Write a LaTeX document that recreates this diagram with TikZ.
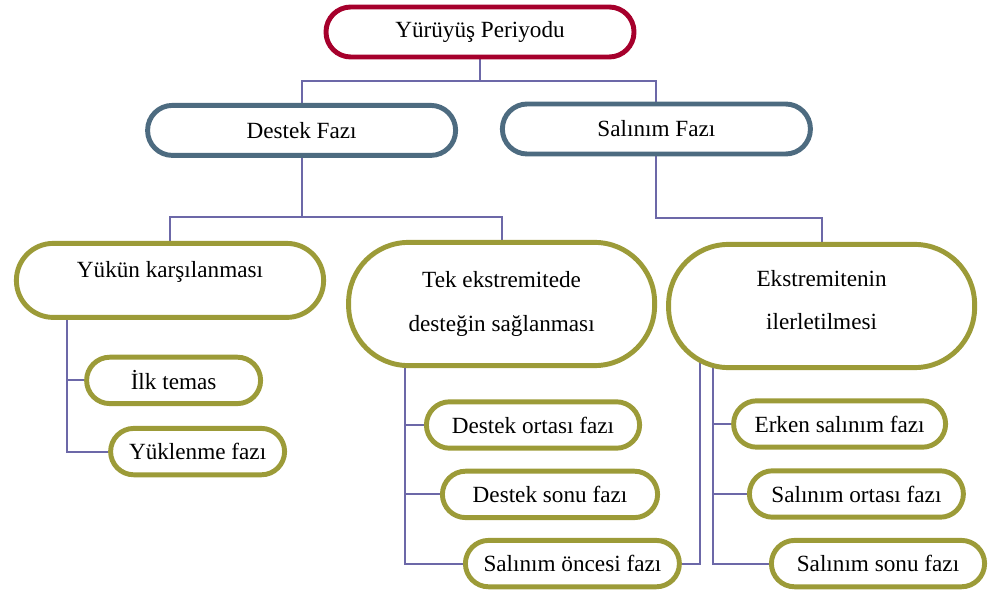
\documentclass[tikz,border=0pt]{standalone}
\usepackage{fontspec}
\setmainfont{Liberation Serif}
\usepackage{tikz}
\usetikzlibrary{positioning, calc, backgrounds}
\definecolor{periodred}{HTML}{A6002C}
\definecolor{phaseslate}{HTML}{4D6B80}
\definecolor{subolive}{HTML}{9C9B38}
\definecolor{linkpurple}{HTML}{6C68A8}

\begin{document}
\begin{tikzpicture}[
        every node/.style={font=\fontsize{16.5}{31}\selectfont, fill=white, line width=3.5pt, align=center},
        periodbox/.style={draw=periodred, rounded corners=0.62cm, minimum width=7.7cm, minimum height=1.25cm},
        phasebox/.style={draw=phaseslate, rounded corners=0.62cm, minimum width=7.7cm, minimum height=1.25cm},
        taskbox/.style={draw=subolive, rounded corners=1.5cm, minimum width=7.65cm, minimum height=3.08cm},
        subbox/.style={draw=subolive, rounded corners=0.58cm, minimum height=1.16cm},
        link/.style={draw=linkpurple, line width=1.4pt}
    ]
        \useasboundingbox (0,0) rectangle (24.8,14.8);

        \node[periodbox] (yur) at (12.0,14.0) {Yürüyüş Periyodu};
        \node[phasebox] (destek) at (7.54,11.54) {Destek Fazı};
        \node[phasebox] (salinim) at (16.41,11.575) {Salınım Fazı};

        \node[taskbox, rounded corners=0.92cm, minimum width=7.68cm, minimum height=1.85cm, text height=0.4cm, text depth=0.55cm] (yukun) at (4.25,7.79) {Yükün karşılanması};
        \node[taskbox] (tek) at (12.54,7.2) {Tek ekstremitede\\desteğin sağlanması};
        \node[taskbox, text depth=0.3cm] (eks) at (20.54,7.15) {Ekstremitenin\\ilerletilmesi};

        \node[subbox, minimum width=4.35cm] (ilk) at (4.34,5.29) {İlk temas};
        \node[subbox, minimum width=4.35cm] (yuklenme) at (4.94,3.51) {Yüklenme fazı};

        \node[subbox, minimum width=5.33cm] (dorta) at (13.325,4.175) {Destek ortası fazı};
        \node[subbox, minimum width=5.38cm] (dson) at (13.75,2.44) {Destek sonu fazı};
        \node[subbox, minimum width=5.35cm] (sonce) at (14.31,0.71) {Salınım öncesi fazı};

        \node[subbox, minimum width=5.3cm] (erken) at (20.99,4.2) {Erken salınım fazı};
        \node[subbox, minimum width=5.35cm] (sorta) at (21.41,2.45) {Salınım ortası fazı};
        \node[subbox, minimum width=5.33cm] (sson) at (21.95,0.71) {Salınım sonu fazı};

        \begin{scope}[on background layer]
        \draw[link] (yur.south) -- ++(0,-0.55) coordinate (topjoin);
        \draw[link] (destek.north) |- (topjoin) -| (salinim.north);
        \draw[link] (destek.south) -- ++(0,-1.48) coordinate (leftjoin);
        \draw[link] (yukun.north) |- (leftjoin) -| (tek.north);
        \draw[link] (salinim.south) -- ++(0,-1.54) -| (eks.north);

        \coordinate (yukspine) at ($(yukun.south west)!0.17!(yukun.south east)+(0,0.3)$);
        \draw[link] (yukspine) |- (ilk.west);
        \draw[link] (yukspine) |- (yuklenme.west);

        \coordinate (tekspine) at ($(tek.south west)!0.19!(tek.south east)+(0,0.4)$);
        \draw[link] (tekspine) |- (dorta.west);
        \draw[link] (tekspine) |- (dson.west);
        \draw[link] (tekspine) |- (sonce.west);

        \coordinate (eksspine) at ($(eks.south west)!0.15!(eks.south east)+(0,0.4)$);
        \draw[link] (eksspine) |- (erken.west);
        \draw[link] (eksspine) |- (sorta.west);
        \draw[link] (eksspine) |- (sson.west);

        \coordinate (ekslow) at ($(eks.south west)!0.11!(eks.south east)+(0,0.6)$);
        \draw[link] (sonce.east) -| (ekslow);
        \end{scope}
\end{tikzpicture}
\end{document}
